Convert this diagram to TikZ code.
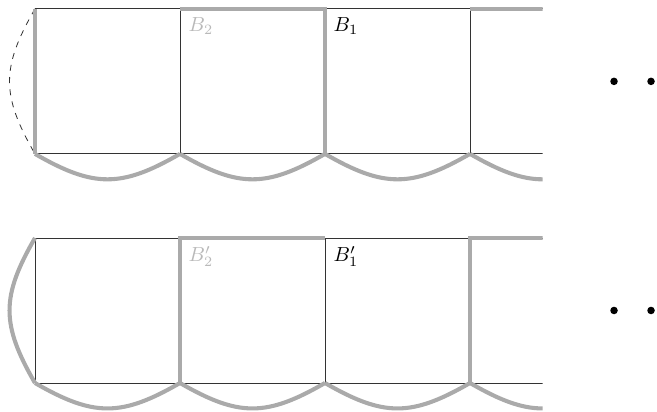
\documentclass[tikz,border=0pt]{standalone}
\usepackage{amsmath}
\usepackage{tikz}
\usetikzlibrary{calc}
\definecolor{bandgray}{RGB}{170,170,170}
\definecolor{labelgray}{RGB}{185,185,185}
\tikzstyle{cell} = [thin, black!80]
\tikzstyle{band} = [line width=2pt, bandgray]
\tikzstyle{bulge} = [bend right=30, looseness=1.2]
\tikzstyle{sag} = [band, bulge]
\tikzstyle{blabel} = [anchor=north west, inner sep=4pt]

\begin{document}
\begin{tikzpicture}
    \useasboundingbox (-0.603,-0.483) rectangle (10.724,6.603);

    % Upper strip
    \begin{scope}[yshift=3.95cm]
        \clip (-1,-1) rectangle (8.75,3);
        \draw[cell] (0,0) -- (8.75,0);
        \draw[cell] (0,2.5) -- (8.75,2.5);
        \foreach \x in {2.5,7.5}
            \draw[cell] (\x,0) -- (\x,2.5);
        \draw[cell, dashed] (0,2.5) to[bulge] (0,0);
        \draw[band] (0,0) -- (0,2.5);
        \draw[band] (2.5,2.5) -- (5,2.5) -- (5,0);
        \draw[band] (7.5,2.5) -- (8.75,2.5);
        \foreach \x in {0,2.5,5,7.5}
            \draw[sag] (\x,0) to (\x+2.5,0);
        \node[blabel, text=labelgray] (b2) at (2.5,2.5) {$B_2$};
        \node[blabel] (b1) at (5,2.5) {$B_1$};
    \end{scope}
    \fill (9.983,5.2) circle (0.065);
    \fill (10.621,5.2) circle (0.065);

    % Lower strip
    \begin{scope}
        \clip (-1,-1) rectangle (8.75,3);
        \draw[cell] (0,0) -- (8.75,0);
        \draw[cell] (0,2.5) -- (8.75,2.5);
        \foreach \x in {0,5}
            \draw[cell] (\x,0) -- (\x,2.5);
        \draw[band] (0,2.5) to[bulge] (0,0);
        \draw[band] (2.5,0) -- (2.5,2.5) -- (5,2.5);
        \draw[band] (7.5,0) -- (7.5,2.5) -- (8.75,2.5);
        \foreach \x in {0,2.5,5,7.5}
            \draw[sag] (\x,0) to (\x+2.5,0);
        \node[blabel, text=labelgray] (b2p) at (2.5,2.5) {$B_2'$};
        \node[blabel] (b1p) at (5,2.5) {$B_1'$};
    \end{scope}
    \fill (9.983,1.25) circle (0.065);
    \fill (10.621,1.25) circle (0.065);
\end{tikzpicture}
\end{document}
